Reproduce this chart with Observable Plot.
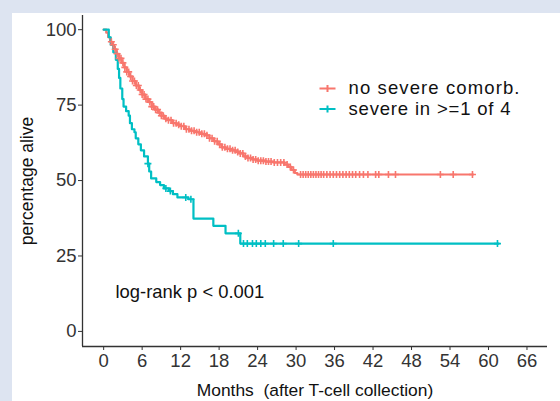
<!DOCTYPE html>
<html>
<head>
<meta charset="utf-8">
<script src="https://cdn.jsdelivr.net/npm/d3@7"></script>
<script src="https://cdn.jsdelivr.net/npm/@observablehq/plot@0.6"></script>
<style>
  html, body { margin: 0; padding: 0; background: #dde4f1; width: 560px; height: 401px; overflow: hidden; }
  #chart { position: absolute; left: 12px; top: 13px; width: 548px; height: 388px; background: #fff; }
  #chart svg { display: block; }
</style>
</head>
<body>
<div id="chart"></div>
<script>
// ---- data ----
const groups = ["no severe comorb.", "severe in >=1 of 4"];
const groupColors = ["#F8766D", "#00BFC4"];

// Kaplan-Meier step points (months, % alive)
const redTime = [0, 0.4, 0.7, 1.0, 1.3, 1.6, 2.0, 2.4, 2.8, 3.2, 3.6, 4.0, 4.5, 5.0, 5.5, 6.0, 6.5, 7.0, 7.5, 8.0, 8.5, 9.0, 9.5, 10.0, 10.7, 11.4, 12.0, 12.7, 13.4, 14.2, 15.0, 15.8, 16.5, 17.2, 17.8, 18.4, 19.0, 19.8, 20.6, 21.2, 21.8, 22.4, 23.2, 24.0, 25.2, 26.5, 28.2, 28.8, 29.3, 29.8, 30.2, 57.6];
const redSurv = [100, 99, 97.5, 96, 95, 93.5, 92, 90.5, 89, 87.5, 86, 84.5, 83, 81.5, 80, 78.5, 77, 76, 74.5, 73.5, 72.5, 71.5, 70.5, 70, 69, 68.5, 68, 67, 66.5, 66, 65.5, 65, 64, 63, 62, 61, 60.5, 60, 59.5, 59, 58, 57.5, 57, 56.6, 56.3, 56, 55.3, 54.5, 53.5, 52.5, 52, 52];
const tealTime = [0, 0.8, 1.1, 1.5, 1.9, 2.2, 2.4, 2.6, 2.9, 3.1, 3.5, 3.9, 4.1, 4.4, 4.8, 5.0, 5.4, 5.8, 6.3, 6.9, 7.1, 7.4, 8.2, 8.8, 9.4, 10.2, 10.8, 11.5, 13.2, 14.0, 17.1, 19.0, 21.3, 61.6];
const tealSurv = [100, 97.5, 95, 92.5, 90, 87, 84, 80.5, 77, 74.5, 73, 71.5, 69, 67, 66, 64, 62, 60, 58, 55.6, 53, 50.7, 49.5, 48.5, 47.4, 46.5, 45.5, 44.4, 43.8, 37.4, 35, 32.5, 29.1, 29.1];

// censoring times (months)
const redCensor = [1.2, 1.5, 1.8, 2.1, 2.4, 2.7, 3.0, 3.3, 3.6, 3.9, 4.2, 4.5, 4.8, 5.1, 5.4, 5.7, 6.0, 6.3, 6.6, 6.9, 7.2, 7.5, 7.8, 8.1, 8.4, 8.7, 9.0, 9.3, 9.7, 10.1, 10.5, 10.9, 11.3, 11.7, 12.1, 12.5, 12.9, 13.3, 13.7, 14.1, 14.5, 14.9, 15.3, 15.7, 16.1, 16.5, 16.9, 17.3, 17.7, 18.1, 18.5, 18.9, 19.3, 19.7, 20.1, 20.5, 20.9, 21.3, 21.7, 22.1, 22.5, 22.9, 23.3, 23.7, 24.1, 24.5, 24.9, 25.3, 25.7, 26.1, 26.6, 27.1, 27.6, 28.1, 28.6, 29.1, 29.6, 30.7, 31.1, 31.5, 31.9, 32.3, 32.7, 33.1, 33.5, 33.9, 34.3, 34.8, 35.3, 35.8, 36.3, 36.8, 37.3, 37.8, 38.3, 38.8, 39.3, 39.9, 40.5, 41.2, 42.4, 42.9, 44.4, 45.5, 52.5, 54.5, 57.5];
const tealCensor = [6.9, 9.7, 10.4, 12.8, 13.6, 21.0, 21.8, 22.4, 23.2, 23.8, 24.5, 25.2, 26.5, 28.0, 30.4, 35.8, 61.4];

const xTicks = [0, 6, 12, 18, 24, 30, 36, 42, 48, 54, 60, 66];
const yTicks = [0, 25, 50, 75, 100];
const xTitle = "Months\u00a0 (after T-cell collection)";
const yTitle = "percentage alive";
const annotation = "log-rank p < 0.001";

// ---- build tables ----
const curves = [
  ...redTime.map((t, i) => ({group: groups[0], time: t, surv: redSurv[i]})),
  ...tealTime.map((t, i) => ({group: groups[1], time: t, surv: tealSurv[i]}))
];
function stepAt(times, survs, t) {
  let v = survs[0];
  for (let i = 0; i < times.length; i++) if (times[i] <= t) v = survs[i];
  return v;
}
const censors = [
  ...redCensor.map(t => ({group: groups[0], time: t, surv: stepAt(redTime, redSurv, t)})),
  ...tealCensor.map(t => ({group: groups[1], time: t, surv: stepAt(tealTime, tealSurv, t)}))
];

const plusSymbol = {draw(ctx) { ctx.moveTo(-3.5, 0); ctx.lineTo(3.5, 0); ctx.moveTo(0, -3.5); ctx.lineTo(0, 3.5); }};
const keySymbol = {draw(ctx) { ctx.moveTo(-8, 0); ctx.lineTo(8, 0); ctx.moveTo(0, -3.5); ctx.lineTo(0, 3.5); }};

const xDomain = [-3.3, 69.2];
const yDomain = [-5, 104.7];
const axisColor = "#333";
const font = "'Liberation Sans', Arial, sans-serif";

const chart = Plot.plot({
  width: 548,
  height: 388,
  marginLeft: 70,
  marginRight: 13,
  marginTop: 2,
  marginBottom: 55,
  x: {domain: xDomain},
  y: {domain: yDomain},
  color: {domain: groups, range: groupColors},
  style: {fontFamily: font, fontSize: "18.5px", background: "white", color: axisColor, overflow: "visible"},
  marks: [
    Plot.axisX({ticks: xTicks, tickSize: 4, tickPadding: 3, label: null, stroke: axisColor, fill: axisColor}),
    Plot.axisY({ticks: yTicks, tickSize: 4, tickPadding: 2, label: null, stroke: axisColor, fill: axisColor}),
    Plot.ruleX([xDomain[0]], {stroke: axisColor, strokeWidth: 1.3}),
    Plot.ruleY([yDomain[0]], {stroke: axisColor, strokeWidth: 1.3}),
    Plot.line(curves, {x: "time", y: "surv", z: "group", stroke: "group", curve: "step-after", strokeWidth: 2.2}),
    Plot.dot(censors, {x: "time", y: "surv", stroke: "group", fill: "none", symbol: plusSymbol, strokeWidth: 1.6}),
    // legend
    Plot.dot([groups[0]], {frameAnchor: "top-left", dx: 245, dy: 73, stroke: groupColors[0], fill: "none", symbol: keySymbol, strokeWidth: 2}),
    Plot.dot([groups[1]], {frameAnchor: "top-left", dx: 245, dy: 93.5, stroke: groupColors[1], fill: "none", symbol: keySymbol, strokeWidth: 2}),
    Plot.text([groups[0]], {frameAnchor: "top-left", dx: 266, dy: 73, text: d => d, textAnchor: "start", lineAnchor: "middle", fontSize: 18.5, fill: "#111"}),
    Plot.text([groups[1]], {frameAnchor: "top-left", dx: 266, dy: 93.8, text: d => d, textAnchor: "start", lineAnchor: "middle", fontSize: 18.5, fill: "#111"}),
    // annotation
    Plot.text([annotation], {frameAnchor: "top-left", dx: 33, dy: 277, text: d => d, textAnchor: "start", lineAnchor: "middle", fontSize: 18.4, fill: "#111"}),
    // axis titles
    Plot.text([yTitle], {frameAnchor: "left", dx: -55, dy: 0, rotate: -90, text: d => d, textAnchor: "middle", lineAnchor: "middle", fontSize: 17.5, fill: "#111"}),
    Plot.text([xTitle], {frameAnchor: "bottom", dx: 0, dy: 44, text: d => d, textAnchor: "middle", lineAnchor: "middle", fontSize: 17.4, fill: "#111"})
  ]
});
// stretch legend labels horizontally to the reference's text widths
const legendWidths = {[groups[0]]: 171, [groups[1]]: 162};
d3.select(chart).selectAll("text").each(function() {
  const w = legendWidths[this.textContent];
  if (w) { this.setAttribute("textLength", w); this.setAttribute("lengthAdjust", "spacing"); }
});
document.getElementById("chart").appendChild(chart);
</script>
</body>
</html>
